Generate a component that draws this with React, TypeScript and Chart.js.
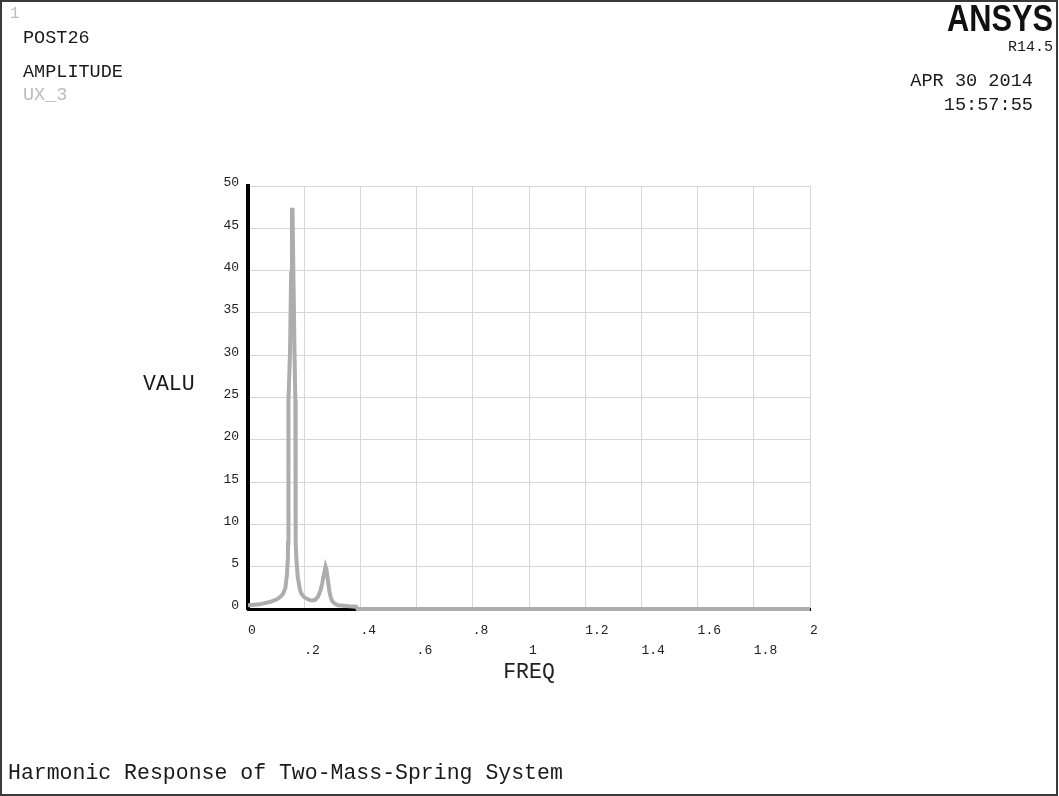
import React, { useEffect, useRef } from "react";
import { Chart, registerables } from "chart.js";

Chart.register(...registerables);

// Frequency (Hz) samples of the harmonic sweep
const freq = [
  0, 0.02, 0.04, 0.06, 0.08, 0.1, 0.11, 0.12, 0.125, 0.133, 0.1385, 0.142,
  0.1425, 0.1435, 0.144, 0.1445, 0.1495, 0.1535, 0.1565, 0.1585, 0.1615, 0.1655,
  0.1685, 0.169, 0.1695, 0.1705, 0.172, 0.177, 0.184, 0.19, 0.2, 0.21, 0.22,
  0.23, 0.24, 0.25, 0.258, 0.264, 0.268, 0.272, 0.276, 0.279, 0.282, 0.286,
  0.29, 0.295, 0.3, 0.31, 0.32, 0.34, 0.36, 0.385, 0.39, 0.4, 2.0,
];
// Amplitude of UX_3
const amplitude = [
  0.45, 0.5, 0.55, 0.7, 0.85, 1.1, 1.3, 1.6, 1.8, 2.5, 4.0, 6.0,
  7.8, 9.3, 19.2, 24.7, 30.3, 39.7, 47.2, 47.2, 39.7, 30.3,
  24.7, 19.2, 9.3, 7.8, 6.0, 3.8, 2.4, 1.8, 1.4, 1.2, 1.05,
  1.0, 1.1, 1.5, 2.2, 3.0, 3.8, 4.3, 5.0, 4.7, 4.0, 3.0,
  2.0, 1.3, 0.9, 0.6, 0.45, 0.38, 0.32, 0.28, 0, 0, 0,
];

const xTickLabels = ["0", ".2", ".4", ".6", ".8", "1", "1.2", "1.4", "1.6", "1.8", "2"];
const yTickLabels = ["0", "5", "10", "15", "20", "25", "30", "35", "40", "45", "50"];

const headerLeft = ["POST26", "AMPLITUDE"];
const seriesName = "UX_3";
const windowNumber = "1";
const brand = "ANSYS";
const release = "R14.5";
const dateText = "APR 30 2014";
const timeText = "15:57:55";
const xTitle = "FREQ";
const yTitle = "VALU";
const footer = "Harmonic Response of Two-Mass-Spring System";

const MONO = "'Liberation Mono', 'Courier New', monospace";

export default function App() {
  const canvasRef = useRef<HTMLCanvasElement | null>(null);

  useEffect(() => {
    if (!canvasRef.current) return;
    const chart = new Chart(canvasRef.current, {
      type: "line",
      data: {
        datasets: [
          {
            label: seriesName,
            data: freq.map((f, i) => ({ x: f, y: amplitude[i] })),
            borderColor: "#adadad",
            borderWidth: 4,
            pointRadius: 0,
            tension: 0,
            fill: false,
            clip: false,
          },
        ],
      },
      options: {
        animation: false,
        responsive: false,
        events: [],
        layout: { padding: { left: 0, top: 186, right: 249, bottom: 0 } },
        plugins: { legend: { display: false }, tooltip: { enabled: false } },
        scales: {
          x: {
            type: "linear",
            min: 0,
            max: 2,
            afterFit: (scale: any) => {
              scale.height = 187;
            },
            grid: { color: "#d6d6d6", lineWidth: 1, drawTicks: false },
            border: { color: "#000", width: 3 },
            ticks: {
              stepSize: 0.2,
              autoSkip: false,
              maxRotation: 0,
              align: "start",
              padding: 12,
              color: "#222",
              font: { family: MONO, size: 13, lineHeight: "20px" },
              callback: (_v: any, i: number) => {
                const lbl = xTickLabels[i] ?? "";
                return i % 2 === 0 ? [lbl, ""] : ["", lbl];
              },
            },
            title: {
              display: true,
              text: xTitle,
              color: "#222",
              font: { family: MONO, size: 21.5, lineHeight: 1 },
              padding: { top: 0, bottom: 113 },
            },
          },
          y: {
            type: "linear",
            min: 0,
            max: 50,
            afterFit: (scale: any) => {
              scale.width = 248;
            },
            grid: { color: "#d6d6d6", lineWidth: 1, drawTicks: false },
            border: { color: "#000", width: 4 },
            ticks: {
              stepSize: 5,
              padding: 9,
              labelOffset: -3,
              color: "#222",
              font: { family: MONO, size: 13 },
              callback: (_v: any, i: number) => yTickLabels[i] ?? "",
            },
          },
        },
      },
    });
    return () => chart.destroy();
  }, []);

  const txt = (extra: React.CSSProperties): React.CSSProperties => ({
    position: "absolute",
    fontFamily: MONO,
    whiteSpace: "pre",
    lineHeight: 1,
    color: "#1a1a1a",
    ...extra,
  });

  return (
    <div
      style={{
        position: "fixed",
        left: 0,
        top: 0,
        width: 1059,
        height: 796,
        background: "#fff",
        overflow: "hidden",
      }}
    >
      <canvas
        ref={canvasRef}
        width={1059}
        height={796}
        style={{ position: "absolute", left: 0, top: 0, width: 1059, height: 796 }}
      />
      <div style={txt({ left: 10, top: 6, fontSize: 16, color: "#bbb" })}>{windowNumber}</div>
      <div style={txt({ left: 23, top: 30, fontSize: 18.5 })}>{headerLeft[0]}</div>
      <div style={txt({ left: 23, top: 64, fontSize: 18.5 })}>{headerLeft[1]}</div>
      <div style={txt({ left: 23, top: 87, fontSize: 18.5, color: "#bbb" })}>{seriesName}</div>
      <div
        style={{
          position: "absolute",
          right: 6,
          top: 1,
          fontFamily: "'Liberation Sans', Arial, sans-serif",
          fontWeight: 700,
          fontSize: 36,
          lineHeight: 1,
          color: "#111",
          transform: "scaleX(0.855)",
          transformOrigin: "right center",
          whiteSpace: "pre",
        }}
      >
        {brand}
      </div>
      <div style={txt({ right: 6, top: 40, fontSize: 15 })}>{release}</div>
      <div style={txt({ right: 26, top: 73, fontSize: 18.6 })}>{dateText}</div>
      <div style={txt({ right: 26, top: 97, fontSize: 18.6 })}>{timeText}</div>
      <div style={txt({ left: 143, top: 374, fontSize: 21.5 })}>{yTitle}</div>
      <div style={txt({ left: 8, top: 763, fontSize: 21.5 })}>{footer}</div>
      <div
        style={{
          position: "absolute",
          left: 0,
          top: 0,
          width: 1058,
          height: 796,
          boxSizing: "border-box",
          border: "2px solid #3a3a3a",
          pointerEvents: "none",
        }}
      />
    </div>
  );
}
